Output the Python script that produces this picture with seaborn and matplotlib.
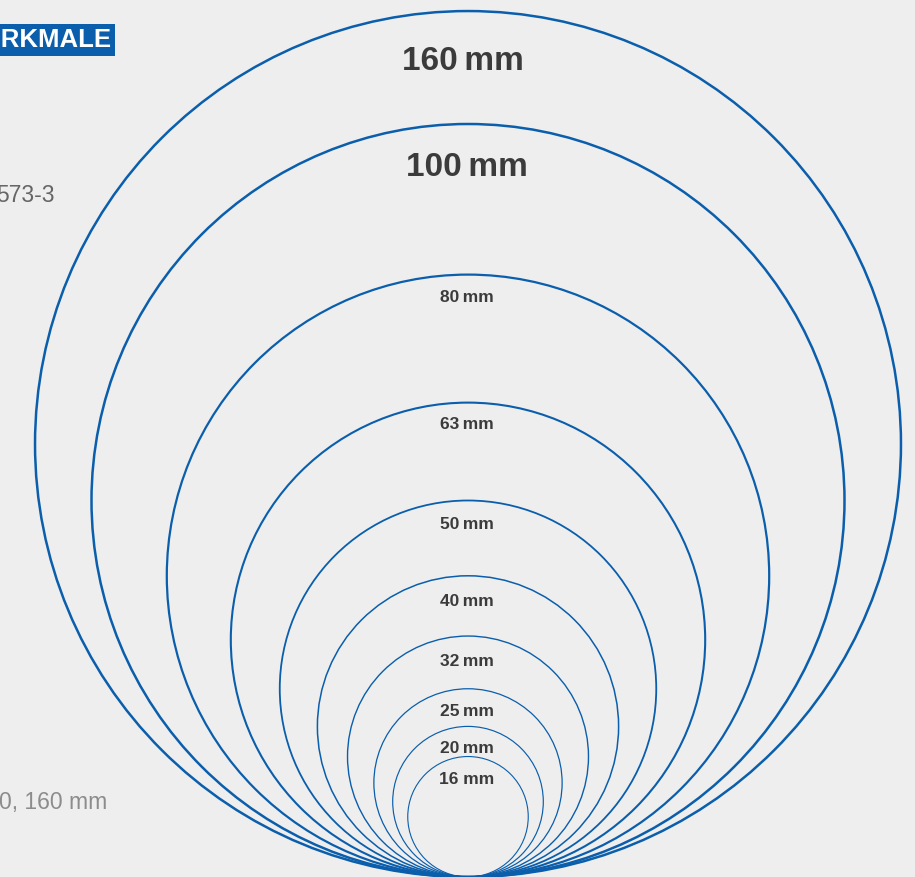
import matplotlib
matplotlib.use("Agg")
import matplotlib.pyplot as plt
from matplotlib.patches import Circle
import seaborn as sns

# nominal conduit diameters (mm) and the size each ring is drawn at (160 is shown compressed)
diameters_mm = [16, 20, 25, 32, 40, 50, 63, 80, 100, 160]
drawn_mm = [16, 20, 25, 32, 40, 50, 63, 80, 100, 115]
labels = ["16 mm", "20\u2009mm", "25\u2009mm", "32\u2009mm", "40\u2009mm",
          "50\u2009mm", "63\u2009mm", "80\u2009mm", "100\u2009mm", "160\u2009mm"]

header_text = "MERKMALE"
norm_text = "573-3"
sizes_text = ", ".join(str(d) for d in diameters_mm) + " mm"

sns.set_theme(style="white")
plt.rcParams["font.family"] = ["Liberation Sans", "DejaVu Sans"]

BG = "#eeeeee"
BLUE = "#0a5eab"
TXT = "#3b3b3b"

px_per_mm = 7.53
tangent_x, tangent_y = 468, 877
line_widths = [0.8, 0.85, 0.9, 1.0, 1.1, 1.3, 1.5, 1.6, 1.8, 1.8]
label_offset = [23, 22, 23, 25, 26, 24, 22, 23, 43, 50]
label_dx = [-1] * 9 + [-5]
label_size = [12.5] * 8 + [24, 24]

fig = plt.figure(figsize=(9.15, 8.77), dpi=100, facecolor=BG)
ax = fig.add_axes([0, 0, 1, 1])
ax.set_facecolor(BG)
ax.set_xlim(0, 915)
ax.set_ylim(877, 0)
ax.set_aspect("equal")
ax.axis("off")

for d, lab, lw, off, dx, fs in zip(drawn_mm, labels, line_widths, label_offset,
                                   label_dx, label_size):
    r = d * px_per_mm / 2
    cy = tangent_y - r
    ax.add_patch(Circle((tangent_x, cy), r, fill=False, ec=BLUE, lw=lw))
    ax.text(tangent_x + dx, tangent_y - 2 * r + off, lab, ha="center", va="center",
            fontsize=fs, fontweight="bold", color=TXT)

# cropped side texts from the surrounding layout
ax.text(111, 40, header_text, ha="right", va="center", fontsize=18.5,
        fontweight="bold", color="white",
        bbox=dict(boxstyle="square,pad=0.15", fc=BLUE, ec="none"))
ax.text(55, 195, norm_text, ha="right", va="center", fontsize=16.5, color="#666666")
ax.text(107, 802, sizes_text, ha="right", va="center", fontsize=16.5, color="#8c8c8c")

fig.savefig("out.png", dpi=100, facecolor=BG)
